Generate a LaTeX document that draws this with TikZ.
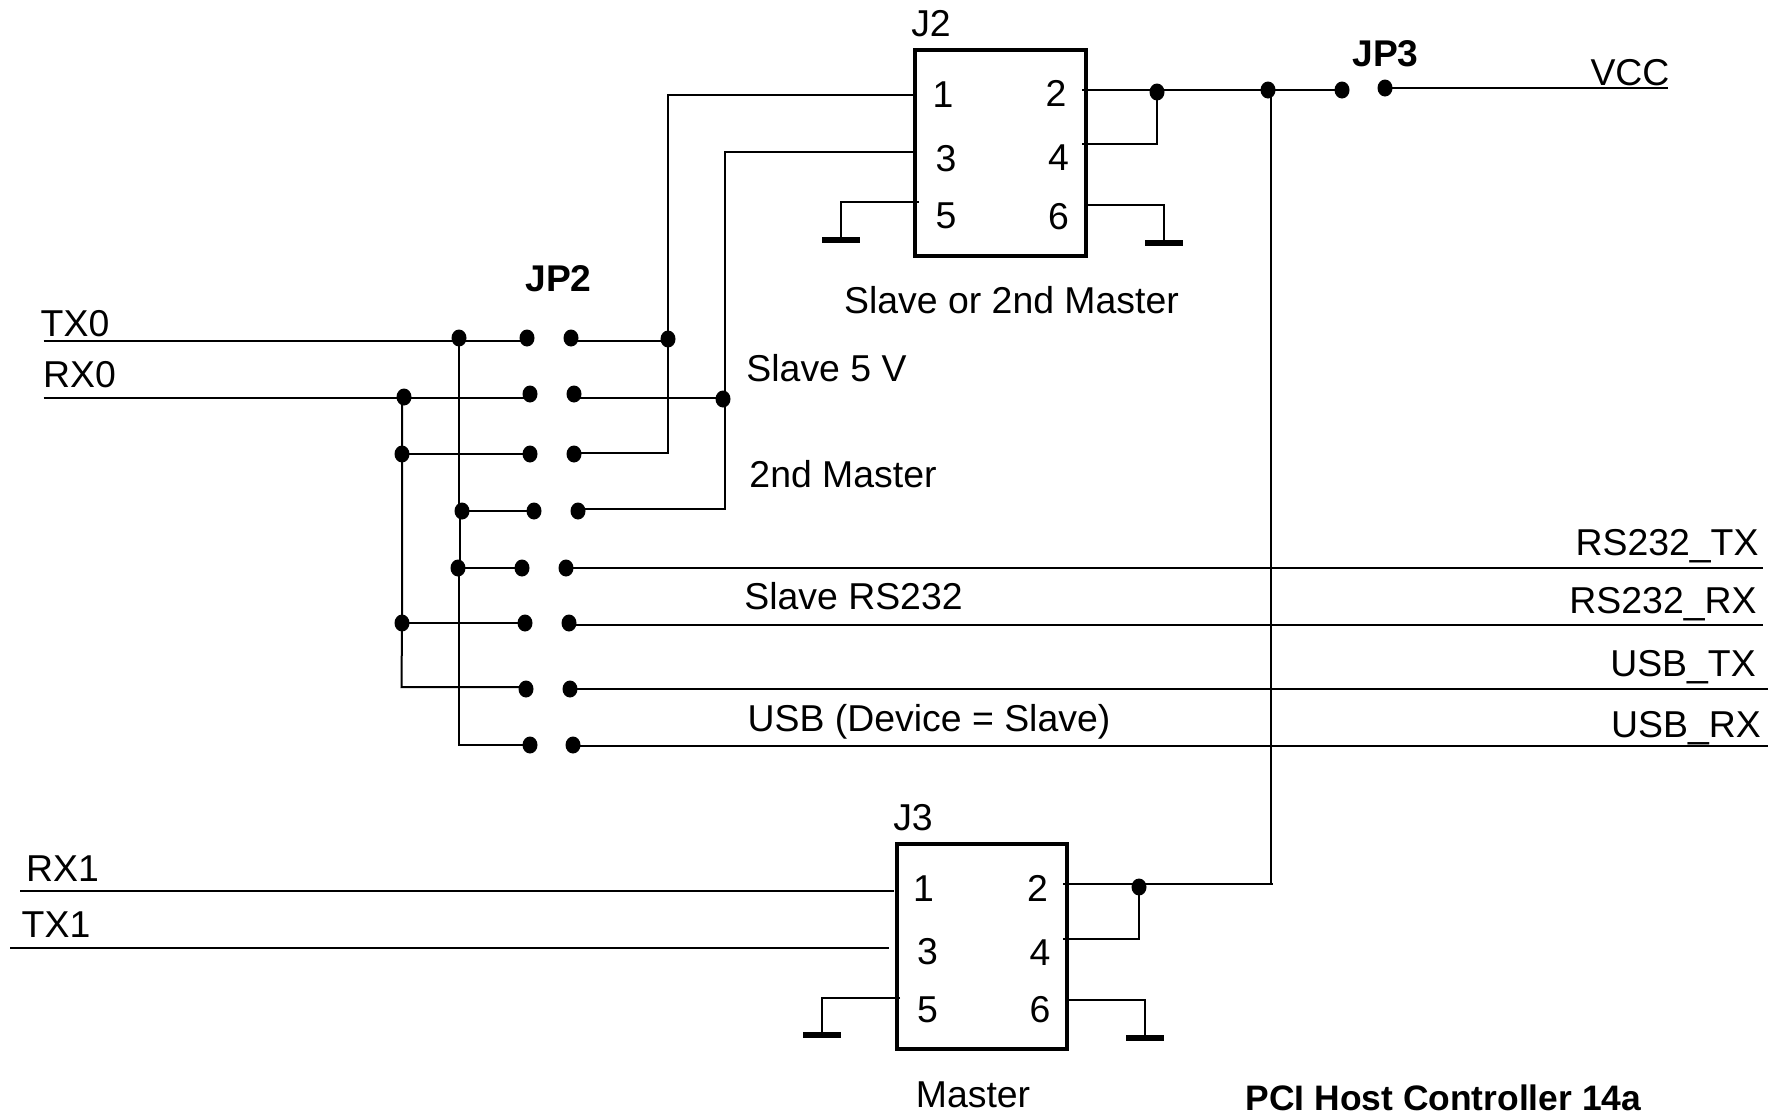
\documentclass[tikz,border=0pt]{standalone}
\usepackage{fontspec}
\setmainfont{Liberation Sans}
\usetikzlibrary{shapes.geometric}
\tikzset{
  wire/.style={draw=black,line width=2pt,line cap=butt,line join=miter},
  dot/.style={ellipse,fill=black,draw=none,inner sep=0pt,minimum width=15pt,minimum height=17pt},
  connbox/.style={rectangle,draw=black,fill=none,line width=3.5pt,inner sep=0pt},
  gndbar/.style={rectangle,fill=black,draw=none,inner sep=0pt,minimum width=38pt,minimum height=6pt},
  lbl/.style={inner sep=0pt,anchor=base,font=\fontsize{37.4}{40}\selectfont},
  blbl/.style={inner sep=0pt,anchor=base,font=\fontsize{37.2}{40}\selectfont\bfseries},
  tlbl/.style={inner sep=0pt,anchor=base,font=\fontsize{35.4}{40}\selectfont\bfseries}
}
\begin{document}
\begin{tikzpicture}[x=1pt,y=-1pt]
\fill[white] (0,0) rectangle (1776,1112);
\useasboundingbox (0,0) rectangle (1776,1112);
% connectors' free ends and levels
\coordinate (wA) at (43.5,341);
\coordinate (wB) at (43.5,398);
\coordinate (wC) at (1763,568);
\coordinate (wD) at (1763,624.5);
\coordinate (wE) at (1768,689);
\coordinate (wF) at (1768,746);
\coordinate (lG) at (401.5,687);
\coordinate (lH) at (458.5,744.5);
\coordinate (rC) at (668,453);
\coordinate (vT) at (725,152);
\coordinate (vB) at (725,509);
\coordinate (vcc) at (1668,88);
\coordinate (rx1) at (20,891);
\coordinate (tx1) at (10,948);
% connector boxes
\node[connbox,minimum width=171pt,minimum height=206pt] (J2) at (1000.5,153) {};
\node[connbox,minimum width=170pt,minimum height=205pt] (J3) at (982,946.5) {};
% pin points
\coordinate (p21) at (915,95);
\coordinate (p23) at (915,152);
\coordinate (p25) at (919,202);
\coordinate (p26) at (1086,205);
\coordinate (p22) at (1082,90);
\coordinate (p24) at (1082,144);
\coordinate (p31) at (894,891);
\coordinate (p33) at (889,948);
\coordinate (p35) at (900,998);
\coordinate (p36) at (1068,1000);
\coordinate (p32) at (1063,884);
\coordinate (p34) at (1063,939);
\coordinate (bust) at (1271,90);
\coordinate (bus) at (1271,884);
\coordinate (busend) at (1273,884);
% ground bars
\node[gndbar] (g25) at (841,240) {};
\node[gndbar] (g26) at (1164,243) {};
\node[gndbar] (g35) at (822,1035) {};
\node[gndbar] (g36) at (1145,1038) {};
% JP2 dots
\node[dot] (jm1) at (459,338) {};
\node[dot] (dl1) at (527,338) {};
\node[dot] (dr1) at (571,338) {};
\node[dot] (jr1) at (668,339) {};
\node[dot] (jl2) at (404,397) {};
\node[dot] (dl2) at (530,394) {};
\node[dot] (dr2) at (574,394) {};
\node[dot] (jr2) at (723,399) {};
\node[dot] (jl3) at (402,454) {};
\node[dot] (dl3) at (530,454) {};
\node[dot] (dr3) at (574,454) {};
\node[dot] (jm4) at (462,511) {};
\node[dot] (dl4) at (534,511) {};
\node[dot] (dr4) at (578,511) {};
\node[dot] (jm5) at (458,568) {};
\node[dot] (dl5) at (522,568) {};
\node[dot] (dr5) at (566,568) {};
\node[dot] (jl6) at (402,623) {};
\node[dot] (dl6) at (525,623) {};
\node[dot] (dr6) at (569,623) {};
\node[dot] (dl7) at (526,689) {};
\node[dot] (dr7) at (570,689) {};
\node[dot] (dl8) at (530,745) {};
\node[dot] (dr8) at (573,745) {};
% top-right dots
\node[dot] (jt1) at (1157,92) {};
\node[dot] (jt2) at (1268,90) {};
\node[dot] (jp3a) at (1342,90) {};
\node[dot] (jp3b) at (1385,88) {};
\node[dot] (jb1) at (1139,887) {};
% JP2 wiring, left side
\draw[wire] (wA) -- (dl1 |- wA);
\draw[wire] (wB) -- (dl2 |- wB);
\draw[wire] (jl3 |- jl2) -- (jl3.center) -- (jl6.center) -- (lG) -- (dl7 |- lG);
\draw[wire] (jl3.center) -- (dl3.center);
\draw[wire] (jl6.center) -- (dl6.center);
\draw[wire] (lH |- jm1) -- (lH |- jm4) -- (460,511) -- (460,568);
\draw[wire] (jm4.center) -- (dl4.center);
\draw[wire] (jm5.center) -- (dl5.center);
\draw[wire] (lH |- jm5) -- (lH) -- (dl8 |- lH);
% JP2 wiring, right side
\draw[wire] (dr1 |- wA) -- (jr1 |- wA);
\draw[wire] (p21) -- (jr1 |- p21) -- (rC) -- (dr3 |- rC);
\draw[wire] (dr2 |- wB) -- (vT |- wB);
\draw[wire] (p23) -- (vT) -- (vB) -- (dr4 |- vB);
\draw[wire] (dr5 |- wC) -- (wC);
\draw[wire] (dr6 |- wD) -- (wD);
\draw[wire] (dr7 |- wE) -- (wE);
\draw[wire] (dr8 |- wF) -- (wF);
% J2 wiring
\draw[wire] (p25) -| (g25.north);
\draw[wire] (p26) -| (g26.north);
\draw[wire] (p22) -- (jp3a.center |- p22);
\draw[wire] (p24) -| (jt1.center);
\draw[wire] (jp3b.center) -- (vcc);
\draw[wire] (bust) -- (bus);
% J3 wiring
\draw[wire] (rx1) -- (p31);
\draw[wire] (tx1) -- (p33);
\draw[wire] (p35) -| (g35.north);
\draw[wire] (p36) -| (g36.north);
\draw[wire] (p32) -- (busend);
\draw[wire] (p34) -| (jb1.center);
% labels
\node[lbl] (tJ2) at (931,36) {J2};
\node[blbl] (tJP3) at (1385.5,66) {JP3};
\node[lbl] (tVCC) at (1630,85) {VCC};
\node[lbl] (t21) at (943,107) {1};
\node[lbl] (t22) at (1056,106) {2};
\node[lbl] (t23) at (946,171) {3};
\node[lbl] (t24) at (1058.5,170) {4};
\node[lbl] (t25) at (946,228) {5};
\node[lbl] (t26) at (1058.5,229) {6};
\node[lbl] (tSM) at (1011.5,313) {Slave or 2nd Master};
\node[blbl] (tJP2) at (558.5,291) {JP2};
\node[lbl] (tTX0) at (75,336) {TX0};
\node[lbl] (tRX0) at (79.5,387) {RX0};
\node[lbl] (tS5) at (826.5,381) {Slave 5 V};
\node[lbl] (t2M) at (843,487) {2nd Master};
\node[lbl] (tSR) at (853.5,609) {Slave RS232};
\node[lbl] (tUD) at (929,731) {USB (Device = Slave)};
\node[lbl] (tRT) at (1667,555) {RS232\_TX};
\node[lbl] (tRR) at (1663,613) {RS232\_RX};
\node[lbl] (tUT) at (1683,676) {USB\_TX};
\node[lbl] (tUR) at (1686,737) {USB\_RX};
\node[lbl] (tJ3) at (913,830) {J3};
\node[lbl] (t31) at (923.5,901) {1};
\node[lbl] (t32) at (1037.5,901) {2};
\node[lbl] (t33) at (927.5,964) {3};
\node[lbl] (t34) at (1040,965) {4};
\node[lbl] (t35) at (927.5,1022) {5};
\node[lbl] (t36) at (1040,1022) {6};
\node[lbl] (tRX1) at (62.5,881) {RX1};
\node[lbl] (tTX1) at (56,937) {TX1};
\node[lbl] (tM) at (973,1107) {Master};
\node[tlbl] (tPCI) at (1443.5,1110) {PCI Host Controller 14a};
\end{tikzpicture}
\end{document}
